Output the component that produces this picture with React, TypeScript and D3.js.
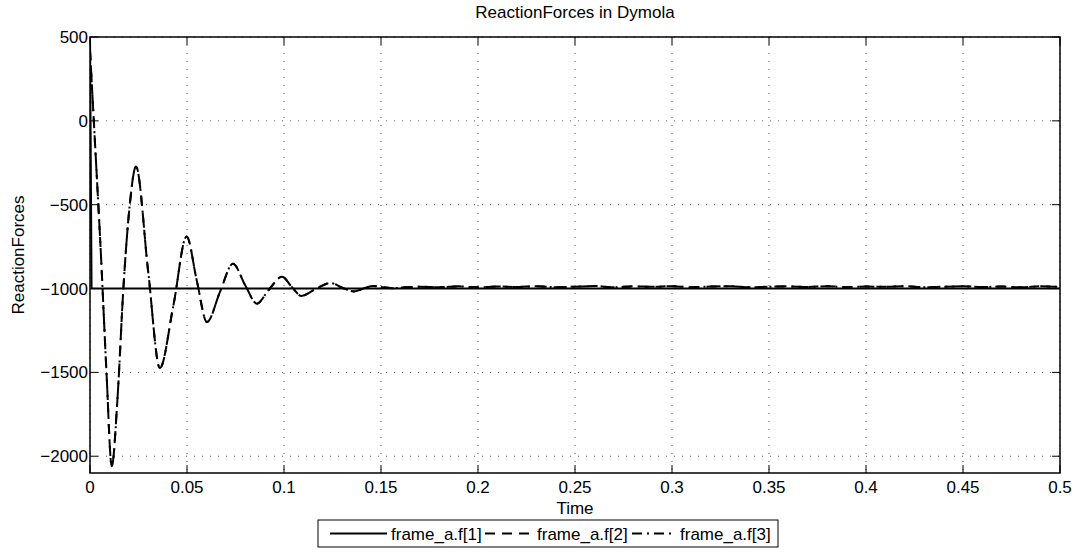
import React from "react";
import * as d3 from "d3";

const W = 1086;
const H = 560;

const xTicks = [0, 0.05, 0.1, 0.15, 0.2, 0.25, 0.3, 0.35, 0.4, 0.45, 0.5];
const xTickLabels = ["0", "0.05", "0.1", "0.15", "0.2", "0.25", "0.3", "0.35", "0.4", "0.45", "0.5"];
const yTicks = [-2000, -1500, -1000, -500, 0, 500];
const yTickLabels = ["\u22122000", "\u22121500", "\u22121000", "\u2212500", "0", "500"];

const seriesNames = ["frame_a.f[1]", "frame_a.f[2]", "frame_a.f[3]"];

const f1Time = [0, 0.0008, 0.5];
const f1Force = [520, -1000, -1000];

const oscTime = [
  0, 0.0028, 0.0056, 0.0085, 0.0112, 0.0142, 0.0172, 0.0205, 0.0237, 0.030, 0.036, 0.043,
  0.0498, 0.055, 0.0603, 0.067, 0.0737, 0.080, 0.086, 0.092, 0.099, 0.104, 0.109,
  0.116, 0.124, 0.130, 0.136, 0.141, 0.146, 0.151, 0.156, 0.161, 0.17, 0.18, 0.19,
  0.2, 0.21, 0.22, 0.23, 0.24, 0.25, 0.26, 0.27, 0.28, 0.29, 0.3, 0.31, 0.32, 0.33,
  0.34, 0.35, 0.36, 0.37, 0.38, 0.39, 0.4, 0.41, 0.42, 0.43, 0.44, 0.45, 0.46, 0.47,
  0.48, 0.49, 0.5,
];
const oscForce = [
  420, -180, -790, -1500, -2060, -1650, -1000, -500, -272, -900, -1474, -1100,
  -689, -950, -1200, -1020, -852, -980, -1090, -1010, -930, -990, -1044,
  -1005, -967, -995, -1017, -1000, -985, -992, -998, -994, -989, -992, -987,
  -993, -988, -991, -986, -992, -989, -985, -993, -987, -990, -986, -992, -988,
  -986, -993, -989, -987, -991, -986, -992, -988, -990, -986, -992, -989, -987,
  -991, -988, -993, -987, -990,
];

const margin = { left: 90, right: 26, top: 37, bottom: 87 };

export default function App() {
  const x = d3.scaleLinear().domain([0, 0.5]).range([margin.left, W - margin.right]);
  const y = d3.scaleLinear().domain([-2100, 500]).range([H - margin.bottom, margin.top]);
  const [x0, x1] = x.range();
  const [y1, y0] = y.range();

  const line = d3
    .line<[number, number]>()
    .x((d) => x(d[0]))
    .y((d) => y(d[1]))
    .curve(d3.curveMonotoneX);
  const lineLin = d3
    .line<[number, number]>()
    .x((d) => x(d[0]))
    .y((d) => y(d[1]));

  const f1 = f1Time.map((t, i) => [t, f1Force[i]] as [number, number]);
  const osc = oscTime.map((t, i) => [t, oscForce[i]] as [number, number]);

  const font = "'Liberation Sans', Arial, Helvetica, sans-serif";
  const tickLen = 8;
  const fs = 17;

  const legX = 318;
  const legY = 520;
  const legW = 460;
  const legH = 27;
  const legMid = legY + legH / 2;
  const entries = [
    { x1: 330, x2: 387, tx: 391, dash: "none" },
    { x1: 485, x2: 533, tx: 537, dash: "10 7" },
    { x1: 632, x2: 676, tx: 680, dash: "10 5 2 5" },
  ];

  return (
    <svg
      width={W}
      height={H}
      style={{ position: "absolute", left: 0, top: 0, background: "#fff" }}
      fontFamily={font}
    >
      <rect x={0} y={0} width={W} height={H} fill="#fff" />
      <defs>
        <clipPath id="plotclip">
          <rect x={x0} y={y0} width={x1 - x0} height={y1 - y0} />
        </clipPath>
      </defs>
      {/* grid */}
      <g stroke="#555" strokeWidth={1} strokeDasharray="1 7">
        {xTicks.map((t) => (
          <line key={"gx" + t} x1={x(t)} x2={x(t)} y1={y0} y2={y1} />
        ))}
        {yTicks.map((t) => (
          <line key={"gy" + t} x1={x0} x2={x1} y1={y(t)} y2={y(t)} />
        ))}
      </g>
      {/* data */}
      <g clipPath="url(#plotclip)" fill="none" stroke="#000" strokeWidth={2}>
        <path d={lineLin(f1) || ""} />
        <path d={line(osc) || ""} strokeDasharray="10 7" />
        <path d={line(osc) || ""} strokeDasharray="10 5 2 5" />
      </g>
      {/* ticks */}
      <g stroke="#000" strokeWidth={1}>
        {xTicks.map((t) => (
          <g key={"tx" + t}>
            <line x1={x(t)} x2={x(t)} y1={y1} y2={y1 - tickLen} />
            <line x1={x(t)} x2={x(t)} y1={y0} y2={y0 + tickLen} />
          </g>
        ))}
        {yTicks.map((t) => (
          <g key={"ty" + t}>
            <line x1={x0} x2={x0 + tickLen} y1={y(t)} y2={y(t)} />
            <line x1={x1} x2={x1 - tickLen} y1={y(t)} y2={y(t)} />
          </g>
        ))}
      </g>
      <rect x={x0} y={y0} width={x1 - x0} height={y1 - y0} fill="none" stroke="#000" strokeWidth={1.5} />
      {/* tick labels */}
      <g fontSize={fs} fill="#000">
        {xTicks.map((t, i) => (
          <text key={"lx" + t} x={x(t)} y={y1 + 20} textAnchor="middle">
            {xTickLabels[i]}
          </text>
        ))}
        {yTicks.map((t, i) => (
          <text key={"ly" + t} x={x0 - 2} y={y(t) + 6} textAnchor="end">
            {yTickLabels[i]}
          </text>
        ))}
      </g>
      <text x={(x0 + x1) / 2} y={18} textAnchor="middle" fontSize={fs}>
        ReactionForces in Dymola
      </text>
      <text x={(x0 + x1) / 2} y={514} textAnchor="middle" fontSize={fs}>
        Time
      </text>
      <text
        transform={`translate(24, ${(y0 + y1) / 2}) rotate(-90)`}
        textAnchor="middle"
        fontSize={fs}
      >
        ReactionForces
      </text>
      {/* legend */}
      <rect x={legX} y={legY} width={legW} height={legH} fill="#fff" stroke="#000" strokeWidth={1} />
      {entries.map((e, i) => (
        <g key={"leg" + i}>
          <line x1={e.x1} x2={e.x2} y1={legMid} y2={legMid} stroke="#000" strokeWidth={2} strokeDasharray={e.dash} />
          <text x={e.tx} y={legMid + 6} fontSize={fs}>
            {seriesNames[i]}
          </text>
        </g>
      ))}
    </svg>
  );
}
